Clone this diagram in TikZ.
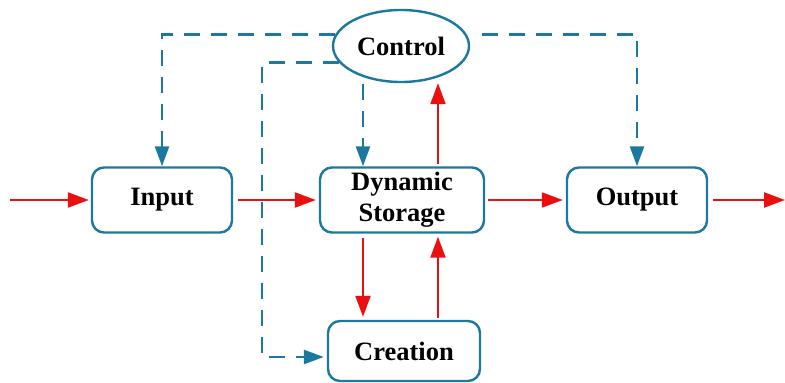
\documentclass[tikz,border=0pt]{standalone}
\usepackage{fontspec}
\setmainfont{Liberation Serif}
\usetikzlibrary{arrows.meta,shapes.geometric}
\definecolor{flowblue}{RGB}{28,120,158}
\definecolor{flowred}{RGB}{232,16,16}
\begin{document}
\begin{tikzpicture}[x=1pt,y=-1pt,
  block/.style={draw=flowblue,line width=2.4pt,rounded corners=12pt,
    minimum width=140pt,minimum height=65pt,inner sep=0pt,align=center,
    font=\fontsize{26.5}{31}\selectfont\bfseries},
  ctrl/.style={draw=flowblue,line width=2.4pt,ellipse,minimum width=136pt,
    minimum height=72pt,inner sep=0pt,font=\fontsize{26.5}{31}\selectfont\bfseries},
  dataflow/.style={draw=flowred,line width=2.2pt,
    -{Triangle[length=21pt,width=15pt]}},
  ctrlflow/.style={draw=flowblue,line width=2.5pt,dash pattern=on 16pt off 11pt,
    -{Triangle[length=20pt,width=14pt]}}]
\useasboundingbox (0,0) rectangle (785,383);

% nodes
\node[ctrl] (control) at (401,46) {Control};
\node[block] (input) at (162,200) {Input};
\node[block,minimum width=164pt] (storage) at (402,200) {Dynamic\\Storage};
\node[block] (output) at (637,200) {Output};
\node[block,minimum width=152pt,minimum height=60pt] (creation) at (404,351) {Creation};

\coordinate (src) at (10,200);
\coordinate (sink) at (785,200);
\coordinate (bendL) at (262,200);

% data flow
\draw[dataflow,shorten >=2pt] (src) -- (input.west);
\draw[dataflow,shorten <=5pt,shorten >=3pt] (input.east) -- (storage.west);
\draw[dataflow,shorten <=3pt,shorten >=3pt] (storage.east) -- (output.west);
\draw[dataflow,shorten <=5pt] (output.east) -- (sink);
\draw[dataflow,shorten <=2pt] ([xshift=36pt]storage.north) -- ([xshift=37pt]control.south);
\draw[dataflow,shorten <=4pt,shorten >=3pt] ([xshift=-39pt]storage.south) -- ([xshift=-41pt]creation.north);
\draw[dataflow,shorten <=2pt,shorten >=3pt] ([xshift=34pt]creation.north) -- ([xshift=36pt]storage.south);

% control flow
\draw[ctrlflow] (control.170) -| (input.north);
\draw[ctrlflow] (control.195) -| (bendL) |- ([yshift=-6pt,xshift=-3pt]creation.west);
\draw[ctrlflow,shorten <=1pt] ([xshift=-38pt]control.south) -- ([xshift=-39pt]storage.north);
\draw[ctrlflow,shorten <=15pt] (control.10) -| (output.north);
\end{tikzpicture}
\end{document}
